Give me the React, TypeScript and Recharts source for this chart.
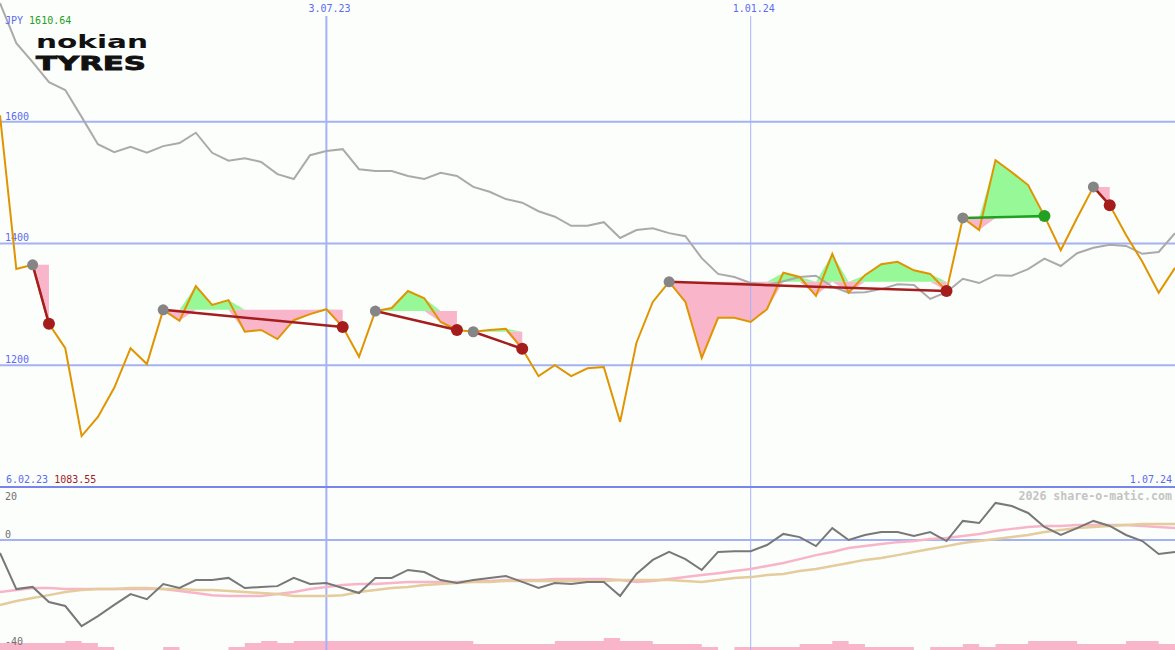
import { ComposedChart, Line, Area, XAxis, YAxis, ReferenceLine } from 'recharts';

const MONO = "'DejaVu Sans Mono', monospace";
const BLUE_TEXT = '#5b6bf2';
const GRID = '#a4b2f4';
const AXIS_GREY = '#707070';

// weekly closes, JPY
const closes = [
  1610.64, 1358, 1365, 1268, 1228, 1083.55, 1115, 1163, 1228, 1202,
  1291, 1273, 1330, 1299, 1307, 1255, 1258, 1243, 1274, 1284,
  1292, 1263, 1214, 1289, 1294, 1322, 1310, 1271, 1258, 1255,
  1258, 1260, 1227, 1182, 1200, 1182, 1195, 1197, 1107, 1237,
  1304, 1337, 1304, 1212, 1278, 1278, 1271, 1292, 1352, 1345,
  1314, 1383, 1319, 1348, 1366, 1370, 1356, 1350, 1322, 1442,
  1422, 1537, 1517, 1496, 1445, 1389, 1442, 1493, 1463, 1414,
  1370, 1319, 1360,
];

// comparison index, rebased
const benchmark = [
  1795, 1729, 1698, 1665, 1652, 1608, 1563, 1550, 1559, 1549,
  1560, 1565, 1582, 1549, 1536, 1540, 1534, 1514, 1506, 1545,
  1552, 1555, 1522, 1519, 1519, 1511, 1506, 1516, 1511, 1493,
  1485, 1473, 1467, 1453, 1444, 1429, 1429, 1435, 1409, 1422,
  1425, 1417, 1412, 1376, 1350, 1345, 1335, 1332, 1338, 1345,
  1347, 1329, 1319, 1320, 1325, 1333, 1332, 1309, 1320, 1342,
  1335, 1348, 1347, 1358, 1375, 1363, 1384, 1393, 1398, 1396,
  1383, 1386, 1417,
];

const momentum = [
  -4.9, -18.5, -17.7, -23.4, -24.9, -32.5, -28.7, -24.5, -20.4, -22.3,
  -16.6, -18.1, -15.1, -15.1, -14.3, -18.1, -17.7, -17.4, -14.3, -16.6,
  -16.2, -18.1, -20.0, -14.3, -14.3, -11.3, -12.1, -15.1, -16.2, -15.1,
  -14.3, -13.6, -15.8, -18.1, -16.2, -16.6, -15.8, -15.8, -21.1, -12.8,
  -7.5, -4.5, -7.2, -11.3, -4.5, -4.2, -4.2, -1.9, 2.3, 1.1,
  -2.3, 4.5, 0, 1.9, 3.0, 3.0, 1.5, 3.0, -0.4, 7.2,
  6.4, 14.0, 12.8, 10.2, 4.9, 1.9, 4.5, 7.2, 5.3, 1.9,
  -0.4, -5.3, -4.5,
];

const fastAvg = [
  -19.6, -18.9, -18.1, -18.1, -18.5, -18.5, -18.5, -18.5, -18.5, -18.5,
  -18.5, -19.2, -20.0, -20.8, -21.1, -21.1, -21.1, -20.4, -19.6, -18.5,
  -17.7, -17.0, -16.6, -16.6, -16.2, -15.8, -15.8, -15.8, -15.8, -15.5,
  -15.5, -15.1, -15.1, -15.1, -14.7, -14.7, -14.7, -14.7, -15.1, -15.8,
  -15.5, -14.7, -14.0, -13.2, -12.5, -11.7, -10.9, -9.8, -8.7, -7.2,
  -5.7, -4.5, -3.0, -2.3, -1.5, -0.8, -0.4, 0.4, 0.8, 1.5,
  2.3, 3.4, 4.2, 4.9, 5.3, 5.3, 5.7, 5.7, 5.7, 5.7,
  5.3, 4.9, 4.5,
];

const slowAvg = [
  -24.5, -23.0, -21.9, -20.8, -19.6, -18.9, -18.5, -18.5, -18.1, -18.1,
  -18.5, -18.5, -18.9, -18.9, -19.2, -19.6, -20.0, -20.4, -21.1, -21.1,
  -21.1, -20.8, -19.6, -18.9, -18.1, -17.7, -17.0, -16.6, -16.2, -15.8,
  -15.8, -15.5, -15.5, -15.5, -15.5, -15.5, -15.5, -15.5, -15.1, -15.1,
  -15.1, -15.1, -15.5, -15.8, -15.1, -14.3, -14.0, -13.2, -12.8, -11.7,
  -10.9, -9.8, -8.7, -7.5, -6.8, -5.7, -4.5, -3.4, -2.3, -1.1,
  -0.4, 0.4, 1.1, 1.9, 3.0, 3.8, 4.5, 4.9, 5.3, 5.7,
  6.0, 6.0, 6.0,
];

const volume = [
  7, 7, 7, 7, 9, 7, 3, 0, 0, 0,
  3, 0, 0, 0, 3, 7, 9, 7, 9, 9,
  9, 9, 9, 9, 9, 9, 9, 9, 9, 6,
  6, 6, 6, 6, 9, 9, 9, 12, 9, 9,
  6, 6, 6, 3, 0, 3, 3, 3, 3, 6,
  6, 9, 6, 3, 3, 3, 0, 3, 3, 6,
  3, 6, 6, 9, 9, 9, 6, 6, 6, 9,
  9, 6, 6,
];

// signal trades: week index of entry and exit
const trades = [
  { entry: 2, exit: 3 },
  { entry: 10, exit: 21 },
  { entry: 23, exit: 28 },
  { entry: 29, exit: 32 },
  { entry: 41, exit: 58 },
  { entry: 59, exit: 64 },
  { entry: 67, exit: 68 },
];

const priceGrid = [1200, 1400, 1600];
const dateMarks = [
  { at: 20, label: '3.07.23', width: 2 },
  { at: 46, label: '1.01.24', width: 1 },
];

const rows = closes.map((close, i) => {
  const row: Record<string, any> = {
    i,
    close,
    benchmark: benchmark[i],
    momentum: momentum[i],
    fast: fastAvg[i],
    slow: slowAvg[i],
    volume: volume[i],
  };
  trades.forEach((t, k) => {
    const entry = closes[t.entry];
    if (i >= t.entry && i <= t.exit) {
      row[`gain${k}`] = [entry, Math.max(close, entry)];
      row[`loss${k}`] = [Math.min(close, entry), entry];
    }
    if (i === t.entry || i === t.exit) row[`trade${k}`] = close;
    if (i === t.entry) row.buy = close;
    if (i === t.exit) row[close > entry ? 'sellWin' : 'sellLoss'] = close;
  });
  return row;
});

const lineLabel =
  (text: string, color: string, dx: number, dy: number) =>
  ({ viewBox }: any) => (
    <text
      x={viewBox.x + dx}
      y={viewBox.y + dy}
      fill={color}
      fontSize={10}
      fontFamily={MONO}
    >
      {text}
    </text>
  );

export default function App() {
  return (
    <div
      style={{
        position: 'absolute',
        left: 0,
        top: 0,
        width: 1175,
        height: 650,
        background: '#fcfefc',
        overflow: 'hidden',
      }}
    >
      <ComposedChart
        width={1175}
        height={650}
        data={rows}
        margin={{ top: 0, right: 0, bottom: 0, left: 0 }}
      >
        <XAxis type="number" dataKey="i" domain={[0, 72]} hide />
        <YAxis yAxisId="price" domain={[732.2, 1800]} hide allowDataOverflow />
        <YAxis yAxisId="ind" domain={[-41.5, 203.75]} hide allowDataOverflow />
        <YAxis yAxisId="vol" domain={[0, 650]} hide allowDataOverflow />

        {priceGrid.map((v) => (
          <ReferenceLine
            key={v}
            yAxisId="price"
            y={v}
            stroke={GRID}
            strokeWidth={2}
            label={lineLabel(String(v), BLUE_TEXT, 5, -2)}
          />
        ))}
        {dateMarks.map((d) => (
          <ReferenceLine
            key={d.label}
            yAxisId="price"
            segment={[
              { x: d.at, y: 1773.7 },
              { x: d.at, y: 732.2 },
            ]}
            stroke={GRID}
            strokeWidth={d.width}
            label={lineLabel(d.label, BLUE_TEXT, -18, -4)}
          />
        ))}
        <ReferenceLine
          yAxisId="ind"
          y={0}
          stroke={GRID}
          strokeWidth={2}
          label={lineLabel('0', AXIS_GREY, 5, -2)}
        />
        <ReferenceLine
          yAxisId="ind"
          y={20}
          stroke="#7886ec"
          strokeWidth={2}
          label={lineLabel('20', AXIS_GREY, 5, 13)}
        />

        <Area
          yAxisId="vol"
          dataKey="volume"
          type="stepAfter"
          baseValue={0}
          fill="#f9b6ca"
          fillOpacity={1}
          stroke="none"
          activeDot={false}
          isAnimationActive={false}
        />
        <Line yAxisId="ind" dataKey="fast" stroke="#f8b4c8" strokeWidth={2.5} dot={false} activeDot={false} isAnimationActive={false} />
        <Line yAxisId="ind" dataKey="slow" stroke="#e4cc9c" strokeWidth={2.5} dot={false} activeDot={false} isAnimationActive={false} />
        <Line yAxisId="ind" dataKey="momentum" stroke="#787878" strokeWidth={2} dot={false} activeDot={false} isAnimationActive={false} />

        {trades.map((t, k) => (
          <Area
            key={`g${k}`}
            yAxisId="price"
            dataKey={`gain${k}`}
            fill="#96f896"
            fillOpacity={1}
            stroke="none"
            activeDot={false}
            isAnimationActive={false}
          />
        ))}
        {trades.map((t, k) => (
          <Area
            key={`l${k}`}
            yAxisId="price"
            dataKey={`loss${k}`}
            fill="#f9b6ca"
            fillOpacity={1}
            stroke="none"
            activeDot={false}
            isAnimationActive={false}
          />
        ))}

        <Line yAxisId="price" dataKey="benchmark" stroke="#aaaaaa" strokeWidth={2} dot={false} activeDot={false} isAnimationActive={false} />
        <Line yAxisId="price" dataKey="close" stroke="#e09400" strokeWidth={2} dot={false} activeDot={false} isAnimationActive={false} />

        {trades.map((t, k) => (
          <Line
            key={`t${k}`}
            yAxisId="price"
            dataKey={`trade${k}`}
            connectNulls
            stroke={closes[t.exit] > closes[t.entry] ? '#22a022' : '#a41e1e'}
            strokeWidth={2.5}
            dot={false}
            activeDot={false}
            isAnimationActive={false}
          />
        ))}

        <Line yAxisId="price" dataKey="buy" stroke="none" dot={{ r: 5.5, fill: '#858585', stroke: 'none' }} activeDot={false} isAnimationActive={false} />
        <Line yAxisId="price" dataKey="sellLoss" stroke="none" dot={{ r: 6, fill: '#a41c1c', stroke: 'none' }} activeDot={false} isAnimationActive={false} />
        <Line yAxisId="price" dataKey="sellWin" stroke="none" dot={{ r: 6, fill: '#22a022', stroke: 'none' }} activeDot={false} isAnimationActive={false} />
      </ComposedChart>

      <svg
        width={1175}
        height={650}
        style={{ position: 'absolute', left: 0, top: 0, pointerEvents: 'none' }}
      >
        <text x={5} y={24} fontSize={10} fontFamily={MONO} fill={BLUE_TEXT}>
          JPY <tspan fill="#22a022">1610.64</tspan>
        </text>
        <text x={6} y={483} fontSize={10} fontFamily={MONO} fill={BLUE_TEXT}>
          6.02.23 <tspan fill="#a41c1c">1083.55</tspan>
        </text>
        <text x={1172} y={483} fontSize={10} fontFamily={MONO} fill={BLUE_TEXT} textAnchor="end">
          1.07.24
        </text>
        <text x={5} y={645} fontSize={10} fontFamily={MONO} fill={AXIS_GREY}>
          -40
        </text>
        <text
          x={1172}
          y={500}
          fontSize={11.6}
          fontFamily={MONO}
          fontWeight="bold"
          fill="#c4c4c4"
          textAnchor="end"
        >
          2026 share-o-matic.com
        </text>
        <text
          x={36}
          y={48}
          fontSize={17}
          fontFamily="'DejaVu Sans', sans-serif"
          fontWeight="bold"
          fill="#111111"
          textLength={112}
          lengthAdjust="spacingAndGlyphs"
        >
          nokian
        </text>
        <text
          x={36}
          y={69.5}
          fontSize={19}
          fontFamily="'DejaVu Sans', sans-serif"
          fontWeight="bold"
          fill="#111111"
          stroke="#111111"
          strokeWidth={0.8}
          textLength={110}
          lengthAdjust="spacingAndGlyphs"
        >
          TYRES
        </text>
      </svg>
    </div>
  );
}
